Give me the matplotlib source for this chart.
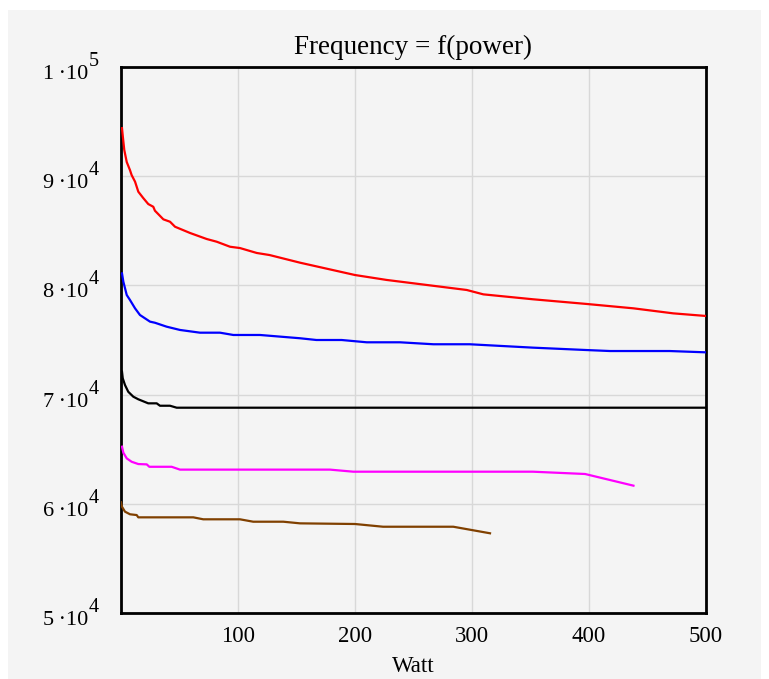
import matplotlib
matplotlib.use("Agg")
import matplotlib.pyplot as plt
from matplotlib.patches import Rectangle
from matplotlib.transforms import blended_transform_factory, offset_copy

plt.rcParams['font.family'] = ['Liberation Serif', 'DejaVu Serif']

# ---- data (Watt, Hz) ----
red_x = [0.85, 1.5, 2.8, 4.9, 7.7, 9.1, 12, 14.8, 19, 23.3, 27.6, 29, 36.2, 41.9, 46.2, 59,
         73.2, 81.8, 93.2, 101.7, 116, 127, 153, 200, 227, 295.5, 309.7, 352, 398, 438, 472, 500]
red_y = [94400, 93700, 92400, 91300, 90550, 90100, 89500, 88580, 88000, 87450, 87200, 86840,
         86050, 85830, 85370, 84800, 84250, 84000, 83540, 83420, 82970, 82780, 82080, 80950,
         80500, 79580, 79180, 78730, 78300, 77900, 77440, 77200]

blue_x = [0.85, 2, 4.9, 7.7, 12, 16.2, 24.8, 29, 39, 50.4, 67.5, 84.6, 96, 118.8, 153, 167,
          188.6, 210, 238.5, 267, 298, 352, 398, 418, 469, 500]
blue_y = [81100, 80340, 79120, 78660, 77900, 77290, 76680, 76580, 76220, 75920, 75670, 75670,
          75460, 75460, 75160, 75000, 75000, 74790, 74790, 74610, 74610, 74300, 74080, 73990,
          73990, 73870]

black_x = [0.85, 1.5, 3.4, 6.2, 10.5, 14.8, 23.3, 30.5, 33.3, 41.9, 47.6, 500]
black_y = [72100, 71490, 70880, 70260, 69810, 69570, 69200, 69200, 68980, 68980, 68800, 68800]

magenta_x = [0.85, 2, 4.9, 9.1, 14.8, 22, 24.2, 43.3, 50.4, 178.6, 198.5, 352, 396.6, 438]
magenta_y = [65230, 64680, 64160, 63850, 63640, 63610, 63390, 63390, 63130, 63130, 62940,
             62940, 62730, 61660]

brown_x = [0, 0.85, 3.4, 7.7, 13.4, 14.8, 61.8, 70.3, 101.7, 113, 138.7, 153, 200, 224, 284, 315.4]
brown_y = [60140, 59730, 59280, 59040, 58970, 58760, 58760, 58580, 58580, 58360, 58360, 58210,
           58150, 57900, 57900, 57300]

series = [
    (red_x, red_y, '#ff0000'),
    (blue_x, blue_y, '#0000ff'),
    (black_x, black_y, '#000000'),
    (magenta_x, magenta_y, '#ff00ff'),
    (brown_x, brown_y, '#804000'),
]

y_ticks = [50000, 60000, 70000, 80000, 90000, 100000]
y_mant = ['5', '6', '7', '8', '9', '1']
y_exp = ['4', '4', '4', '4', '4', '5']
x_ticks = [0, 100, 200, 300, 400, 500]
x_labels = ['', '100', '200', '300', '400', '500']

W, H = 769, 679
fig = plt.figure(figsize=(W / 100, H / 100), dpi=100, facecolor='white')
fig.patches.append(Rectangle((8 / W, 0), (761 - 8) / W, (H - 10) / H,
                             transform=fig.transFigure, facecolor='#f4f4f4',
                             edgecolor='none', zorder=-10))

ax = fig.add_axes([121 / W, 1 - 613 / H, (706 - 121) / W, (613 - 67) / H])
ax.set_facecolor('#f4f4f4')

for xs, ys, c in series:
    ax.plot(xs, ys, color=c, lw=1.6, solid_joinstyle='round', zorder=3)

ax.set_xlim(0, 500)
ax.set_ylim(50000, 100000)
ax.set_xticks(x_ticks)
ax.set_xticklabels(x_labels)
ax.set_yticks(y_ticks)
ax.set_yticklabels([])
ax.grid(True, color='#d8d8d8', lw=1.0, zorder=0)
ax.tick_params(length=0, labelsize=16.5, pad=9)
for s in ax.spines.values():
    s.set_linewidth(2.0)
    s.set_color('black')

# y tick labels drawn as mantissa·10 with a large exponent
blend = blended_transform_factory(ax.transAxes, ax.transData)
for yv, m, e in zip(y_ticks, y_mant, y_exp):
    t_base = offset_copy(blend, fig=fig, x=-33 * 0.72, y=-12 * 0.72, units='points')
    ax.text(0, yv, m + '\u2009\u00b710', transform=t_base, ha='right', va='baseline',
            fontsize=16, clip_on=False)
    t_exp = offset_copy(blend, fig=fig, x=-32 * 0.72, y=1 * 0.72, units='points')
    ax.text(0, yv, e, transform=t_exp, ha='left', va='baseline', fontsize=14.5,
            clip_on=False)

ax.set_title('Frequency = f(power)', fontsize=19.5, pad=9.5)
ax.set_xlabel('Watt', fontsize=16.5, labelpad=7)

fig.savefig('out.png', dpi=100, facecolor=fig.get_facecolor())
